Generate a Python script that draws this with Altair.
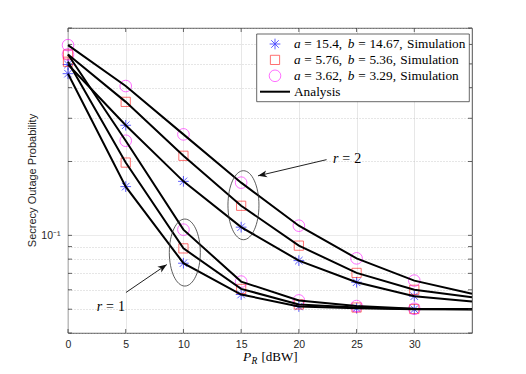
import altair as alt
import pandas as pd

# ---------------- values ----------------
P_R_sim = [0, 5, 10, 15, 20, 25, 30]
P_R_ana = [0, 5, 10, 15, 20, 25, 30, 35]

a_vals = ["15.4", "5.76", "3.62"]
b_vals = ["14.67", "5.36", "3.29"]

# simulation, r = 1
sim_r1_s1 = [0.456, 0.158, 0.0770, 0.0574, 0.0513, 0.0505, 0.0500]
sim_r1_s2 = [0.510, 0.198, 0.0885, 0.0605, 0.0523, 0.0508, 0.0501]
sim_r1_s3 = [0.546, 0.243, 0.1055, 0.0648, 0.0543, 0.0515, 0.0502]
# simulation, r = 2
sim_r2_s1 = [0.497, 0.281, 0.166, 0.108, 0.0789, 0.0644, 0.0565]
sim_r2_s2 = [0.546, 0.350, 0.211, 0.132, 0.0908, 0.0703, 0.0600]
sim_r2_s3 = [0.596, 0.406, 0.258, 0.164, 0.1095, 0.0806, 0.0654]

# analysis curves
ana_r1_s1 = [0.456, 0.158, 0.0770, 0.0574, 0.0513, 0.0505, 0.0500, 0.0500]
ana_r1_s2 = [0.510, 0.198, 0.0885, 0.0605, 0.0523, 0.0508, 0.0501, 0.0500]
ana_r1_s3 = [0.546, 0.243, 0.1055, 0.0648, 0.0543, 0.0515, 0.0502, 0.0500]
ana_r2_s1 = [0.497, 0.281, 0.166, 0.108, 0.0789, 0.0644, 0.0565, 0.0538]
ana_r2_s2 = [0.546, 0.350, 0.211, 0.132, 0.0908, 0.0703, 0.0600, 0.0560]
ana_r2_s3 = [0.596, 0.406, 0.258, 0.164, 0.1095, 0.0806, 0.0654, 0.0578]

x_ticks = [0, 5, 10, 15, 20, 25, 30]
y_ticks = [0.04, 0.05, 0.06, 0.07, 0.08, 0.09, 0.1, 0.2, 0.3, 0.4, 0.5, 0.6, 0.7]

# annotation anchors (data coordinates)
ell_x = [10.12, 15.2]
ell_y = [0.0851, 0.1327]
arrow_x = [5.02, 22.4]
arrow_y = [0.0585, 0.2035]
arrow_x2 = [8.56, 16.46]
arrow_y2 = [0.076, 0.1748]
arrow_angle = [55.7, 257.0]

# ---------------- geometry / style ----------------
W, H = 404, 305
xs = alt.Scale(domain=[0, 35], nice=False, zero=False)
ys = alt.Scale(type="log", domain=[0.04, 0.7], nice=False)
TICK_C = "#262626"
SANS = "Liberation Sans"
SERIF = "Liberation Serif"

xax = alt.Axis(values=x_ticks, grid=True, gridColor="#dcdcdc", gridWidth=0.7,
               ticks=False, domain=False, labelFont=SANS, labelFontSize=10.5,
               labelColor=TICK_C, labelPadding=6, labelFlush=False, title=None)
yax = alt.Axis(values=y_ticks, grid=True,
               gridColor={"condition": {"test": "datum.value == 0.1", "value": "#dcdcdc"},
                          "value": "#b8b8b8"},
               gridDash={"condition": {"test": "datum.value == 0.1", "value": [1, 0]},
                         "value": [1, 2]},
               gridWidth=0.7, ticks=False, domain=False, labelFont=SANS,
               labelFontSize=10.5, labelColor=TICK_C, labelPadding=8,
               labelOverlap=False, labelExpr="datum.value == 0.1 ? '10⁻¹' : ''",
               title=None)


def X(field="P_R"):
    return alt.X(f"{field}:Q", scale=xs, axis=xax)


def Y(field="value"):
    return alt.Y(f"{field}:Q", scale=ys, axis=yax)


layers = []

# ---- simulation markers ----
STAR = "M 0 -1 L 0 1 M -1 0 L 1 0 M -0.7 -0.7 L 0.7 0.7 M -0.7 0.7 L 0.7 -0.7"
marker_styles = [
    dict(shape=STAR, color="#0000ff", size=115, strokeWidth=0.9),
    dict(shape="square", color="#ff0000", size=85, strokeWidth=0.8),
    dict(shape="circle", color="#ff00ff", size=135, strokeWidth=0.8),
]
sims = [[sim_r1_s1, sim_r2_s1], [sim_r1_s2, sim_r2_s2], [sim_r1_s3, sim_r2_s3]]
for k, (pair, st) in enumerate(zip(sims, marker_styles)):
    rows = []
    for vals in pair:
        rows += [{"P_R": x, "value": v} for x, v in zip(P_R_sim, vals)]
    df = pd.DataFrame(rows)
    layers.append(alt.Chart(df).mark_point(filled=False, **st).encode(x=X(), y=Y()))

# ---- analysis lines ----
ana = {"r1s1": ana_r1_s1, "r1s2": ana_r1_s2, "r1s3": ana_r1_s3,
       "r2s1": ana_r2_s1, "r2s2": ana_r2_s2, "r2s3": ana_r2_s3}
rows = []
for name, vals in ana.items():
    rows += [{"P_R": x, "value": v, "curve": name} for x, v in zip(P_R_ana, vals)]
ana_df = pd.DataFrame(rows)
layers.append(alt.Chart(ana_df).mark_line(color="black", strokeWidth=2).encode(
    x=X(), y=Y(), detail="curve:N"))


# ---- ellipses ----
def ellipse_path(rx):
    k = 0.5523
    return (f"M 0 -1 C {k*rx:.4f} -1 {rx} {-k} {rx} 0 C {rx} {k} {k*rx:.4f} 1 0 1 "
            f"C {-k*rx:.4f} 1 {-rx} {k} {-rx} 0 C {-rx} {-k} {-k*rx:.4f} -1 0 -1 Z")


for cx, cy, hgt, wid in zip(ell_x, ell_y, [67, 69], [31, 31]):
    df = pd.DataFrame({"P_R": [cx], "value": [cy]})
    layers.append(alt.Chart(df).mark_point(
        shape=ellipse_path(wid / hgt), size=hgt * hgt, filled=False,
        color="#333333", strokeWidth=0.8, opacity=1).encode(x=X(), y=Y()))

# ---- arrows ----
arr_df = pd.DataFrame({"P_R": arrow_x, "value": arrow_y, "P_R2": arrow_x2,
                       "value2": arrow_y2, "ang": arrow_angle})
layers.append(alt.Chart(arr_df).mark_rule(color="#222222", strokeWidth=1).encode(
    x=X(), y=Y(), x2="P_R2:Q", y2="value2:Q"))
HEAD = "M 0 0 L 0.38 1 L 0 0.72 L -0.38 1 Z"
head_df = pd.DataFrame({"P_R": arrow_x2, "value": arrow_y2, "ang": arrow_angle})
layers.append(alt.Chart(head_df).mark_point(
    shape=HEAD, filled=True, color="#111111", size=330, opacity=1).encode(
    x=X(), y=Y(), angle=alt.Angle("ang:Q", scale=None)))

# ---- inward ticks ----
yt = pd.DataFrame({"value": y_ticks})
xt = pd.DataFrame({"P_R": x_ticks})
layers.append(alt.Chart(yt).mark_rule(color=TICK_C, strokeWidth=0.7).encode(
    y=Y(), x=alt.value(0), x2=alt.value(4)))
layers.append(alt.Chart(yt).mark_rule(color=TICK_C, strokeWidth=0.7).encode(
    y=Y(), x=alt.value(W), x2=alt.value(W - 4)))
layers.append(alt.Chart(xt).mark_rule(color=TICK_C, strokeWidth=0.7).encode(
    x=X(), y=alt.value(H), y2=alt.value(H - 4)))
layers.append(alt.Chart(xt).mark_rule(color=TICK_C, strokeWidth=0.7).encode(
    x=X(), y=alt.value(0), y2=alt.value(4)))

# ---- text helpers ----
TIMES = {" ": 250, ",": 250, ".": 250, "=": 564, "[": 333, "]": 333,
         "S": 556, "i": 278, "m": 778, "u": 500, "l": 278, "a": 444, "t": 278,
         "o": 500, "n": 500, "A": 722, "y": 500, "s": 389, "d": 500, "B": 667,
         "W": 944}
TIMES_IT = {"a": 500, "b": 500, "r": 389, "P": 611, "R": 611}


def tw(s, fs, italic=False):
    tab = TIMES_IT if italic else TIMES
    return sum(tab.get(c, 500) for c in s) / 1000.0 * fs


def text_layer(s, px, py, fs, italic=False, font=SERIF, color="black", **kw):
    df = pd.DataFrame({"t": [s]})
    return alt.Chart(df).mark_text(
        align=kw.pop("align", "left"), baseline="middle", font=font, fontSize=fs,
        fontStyle="italic" if italic else "normal", color=color, **kw).encode(
        x=alt.value(px), y=alt.value(py), text="t:N")


def math_pieces(pieces, x0, py, fs):
    out = []
    x = x0
    for s, it, gap in pieces:
        out.append(text_layer(s, x, py, fs, italic=it))
        x += tw(s, fs, it) + gap * fs
    return out


# ---- legend ----
layers.append(alt.Chart(pd.DataFrame({"d": [0]})).mark_rect(
    fill="white", stroke="#262626", strokeWidth=0.7).encode(
    x=alt.value(188.7), x2=alt.value(401.3), y=alt.value(6), y2=alt.value(73.7)))
row_y = [16, 31.9, 47.8, 63.7]
LFS = 13.3
for k, st in enumerate(marker_styles):
    layers.append(alt.Chart(pd.DataFrame({"d": [0]})).mark_point(filled=False, **st).encode(
        x=alt.value(207), y=alt.value(row_y[k])))
    pieces = [("a", True, 0.28), ("=", False, 0.28), (a_vals[k] + ",", False, 0.42),
              ("b", True, 0.28), ("=", False, 0.28), (b_vals[k] + ",", False, 0.33),
              ("Simulation", False, 0)]
    layers += math_pieces(pieces, 226, row_y[k], LFS)
layers.append(alt.Chart(pd.DataFrame({"d": [0]})).mark_rule(color="black", strokeWidth=2).encode(
    x=alt.value(192), x2=alt.value(222), y=alt.value(row_y[3])))
layers.append(text_layer("Analysis", 226, row_y[3], LFS))

# ---- r labels ----
layers += math_pieces([("r", True, 0.28), ("=", False, 0.28), ("1", False, 0)], 28.7, 279, 14)
layers += math_pieces([("r", True, 0.28), ("=", False, 0.28), ("2", False, 0)], 265, 130.5, 14)

# ---- axis titles ----
layers.append(text_layer("P", 175, 329, 13.5, italic=True))
layers.append(text_layer("R", 183.6, 333, 9.5, italic=True))
layers.append(text_layer("[dBW]", 193.5, 329, 13))
layers.append(text_layer("Secrecy Outage Probability", -35, 152.5, 11, font=SANS,
                         color=TICK_C, align="center", angle=270))

chart = alt.layer(*layers).properties(
    width=W, height=H,
    padding={"left": 60, "top": 20, "right": 46, "bottom": 33},
    autosize=alt.AutoSizeParams(type="none"),
).configure_view(stroke="#262626", strokeWidth=0.8)

chart.save("out.html", embed_options={"renderer": "svg", "actions": False})
